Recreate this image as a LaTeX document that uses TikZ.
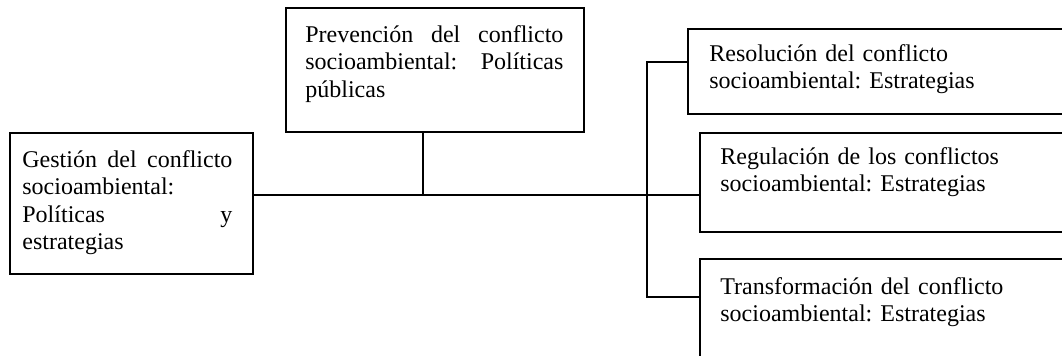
\documentclass[tikz,border=0pt]{standalone}
\usepackage{fontspec}
\setmainfont{Liberation Serif}
\usepackage{tikz}
\frenchspacing

\tikzset{
  box/.style={draw,line width=1pt,anchor=north west,inner sep=0pt},
  txt/.style={anchor=base west,inner sep=0pt,align=left,font=\fontsize{12pt}{13.8pt}\selectfont},
  link/.style={line width=0.8pt}
}

\begin{document}
\begin{tikzpicture}[x=0.5pt,y=-0.5pt]
            \useasboundingbox (0,0) rectangle (1062,355);
            \clip (0,0) rectangle (1062,355);

            \node[box,minimum width=121.5pt,minimum height=70.5pt] (gest) at (9,132) {};
            \node[txt,text width=105pt] (gesttxt) at (22,167) {Gestión \hfill del \hfill conflicto\\ socioambiental:\\ Políticas \hfill y\\ estrategias};

            \node[box,minimum width=149pt,minimum height=62pt] (prev) at (285,7) {};
            \node[txt,text width=129pt] (prevtxt) at (305,42) {Prevención \hfill del \hfill conflicto\\ socioambiental: \hfill Políticas\\ públicas};

            \node[box,minimum width=196.5pt,minimum height=42.5pt] (reso) at (687,28) {};
            \node[txt,text width=170pt] (resotxt) at (709,61) {Resolución del conflicto\\ socioambiental: Estrategias};

            \node[box,minimum width=190.5pt,minimum height=49.5pt] (regu) at (699,132) {};
            \node[txt,text width=170pt] (regutxt) at (720,164) {Regulación de los conflictos\\ socioambiental: Estrategias};

            \node[box,minimum width=190.5pt,minimum height=71pt] (trans) at (699,258) {};
            \node[txt,text width=170pt] (transtxt) at (720,294) {Transformación del conflicto\\ socioambiental: Estrategias};

            \coordinate (mid) at (423,195);
            \coordinate (bustop) at (647,62);
            \coordinate (busbot) at (647,297);

            \draw[link] (gest.east |- mid) -- (regu.west |- mid);
            \draw[link] (prev.south -| mid) -- (mid);
            \draw[link] (reso.west |- bustop) -- (bustop) -- (busbot) -- (trans.west |- busbot);
        \end{tikzpicture}
\end{document}
